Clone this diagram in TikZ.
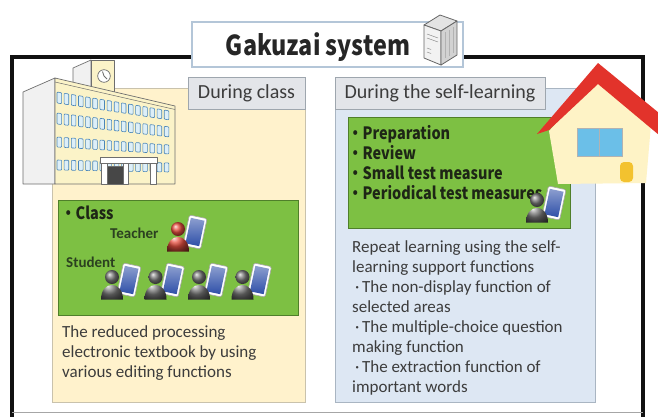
\documentclass[tikz,border=0pt]{standalone}
\usepackage{fontspec}
\setmainfont{Carlito}
\newfontfamily\gothic{Noto Sans CJK JP}[FakeStretch=0.85]

\definecolor{frameblack}{HTML}{111111}
\definecolor{titleedge}{HTML}{B4C6D8}
\definecolor{beige}{HTML}{FFF2CC}
\definecolor{beigeedge}{HTML}{C9C2AC}
\definecolor{skyfill}{HTML}{DDE7F3}
\definecolor{skyedge}{HTML}{A9B5C2}
\definecolor{tabfill}{HTML}{E3E5E9}
\definecolor{tabedge}{HTML}{9EA6AE}
\definecolor{leaf}{HTML}{7DC043}
\definecolor{leafedge}{HTML}{4F7F2A}
\definecolor{ink}{HTML}{3C3C3C}
\definecolor{darkink}{HTML}{1E2616}
\definecolor{labelgreen}{HTML}{2B4020}
\definecolor{roofred}{HTML}{E2332B}
\definecolor{wallcream}{HTML}{FEF3C6}
\definecolor{glass}{HTML}{6BBFE8}
\definecolor{doorgold}{HTML}{F3C22F}
\definecolor{facade}{HTML}{FBF3C8}
\definecolor{sideface}{HTML}{F1F1F1}
\definecolor{outline}{HTML}{6E6E6E}
\definecolor{winfill}{HTML}{DDEFF8}
\definecolor{winedge}{HTML}{4A86B8}
\definecolor{screenblue}{HTML}{2E4FA8}
\definecolor{personred}{HTML}{E85040}
\definecolor{persongray}{HTML}{7A7A7A}

\tikzset{
  panel/.style={draw, line width=0.8pt, inner sep=0pt, rectangle},
  tabbox/.style={draw=tabedge, fill=tabfill, line width=0.8pt, inner sep=0pt,
    font=\fontsize{20}{22}\selectfont, text=ink},
  greenbox/.style={draw=leafedge, fill=leaf, line width=0.8pt, inner sep=0pt},
  % multi-line nodes: the base anchor sits on the last line
  bodytext/.style={anchor=base west, inner sep=0pt, align=left,
    font=\fontsize{17}{20}\selectfont, text=ink},
  bolditem/.style={anchor=base west, inner sep=0pt, align=left,
    font=\gothic\bfseries\fontsize{17}{20}\selectfont, text=darkink},
  role/.style={anchor=base west, inner sep=0pt,
    font=\bfseries\fontsize{15}{16}\selectfont, text=labelgreen},
  win/.style={fill=winfill, draw=winedge, line width=0.6pt},
  bld/.style={draw=outline, line width=0.7pt, line join=round},
  pics/learner/.style={code={
    \begin{scope}[shift={(17,3)}, rotate=-12]
      \filldraw[fill=white, draw=black!35, rounded corners=1.5pt, line width=0.6pt]
        (-9,-15.5) rectangle (9,15.5);
      \shade[top color=screenblue!55!white, bottom color=screenblue]
        (-7,-13) rectangle (7,13);
    \end{scope}
    \shade[ball color=#1] (-11,22.5) .. controls (-11,3) and (11,3) .. (11,22.5) -- cycle;
    \shade[ball color=#1] (0,0) circle (7);
  }}
}

\begin{document}
\begin{tikzpicture}[x=1pt, y=-1pt]
\useasboundingbox (0,0) rectangle (658,416);
\fill[white] (0,0) rectangle (658,416);

% outer frame
\draw[line width=3.5pt, frameblack] (12,417) -- (12,57) -- (643,57) -- (643,417);
\draw[gray!70, line width=0.6pt] (12,412) -- (643,412);

% title box and server
\node[draw=titleedge, fill=white, line width=1.2pt, minimum width=271pt,
      minimum height=45pt, inner sep=0pt] (titlebox) at (327.5,44.5) {};
\node[anchor=base, inner sep=0pt, font=\gothic\bfseries\fontsize{27.5}{30}\selectfont,
      text=black!85] (title) at (318,55) {Gakuzai system};
\begin{scope}[draw=black!60, line width=0.8pt, line join=round]
  \filldraw[fill=gray!22] (424,25) -- (440,15) -- (457,21) -- (441,31) -- cycle;
  \filldraw[fill=gray!10] (424,25) -- (441,31) -- (441,65) -- (424,58) -- cycle;
  \filldraw[fill=gray!35] (441,31) -- (457,21) -- (457,55) -- (441,65) -- cycle;
  \draw[line width=0.5pt, black!45] (427,34) -- (438,38) (427,38) -- (438,42)
    (427,48) -- (431,49.5) (427,52) -- (431,53.5);
  \draw[line width=0.5pt, black!30] (445,32) -- (445,58) (449,30) -- (449,56)
    (453,27) -- (453,53);
\end{scope}

% panels
\node[panel, draw=beigeedge, fill=beige, minimum width=253pt, minimum height=314pt]
  (classpanel) at (178.5,245) {};
\node[panel, draw=skyedge, fill=skyfill, minimum width=260pt, minimum height=314pt]
  (selfpanel) at (465,245) {};
\node[tabbox, minimum width=117pt, minimum height=32pt] (classtab) at (246.5,93)
  {During class};
\node[tabbox, minimum width=210pt, minimum height=32pt] (selftab) at (440,93)
  {During the self-learning};

% school building
\filldraw[bld, fill=sideface] (73,68) -- (91,60) -- (91,98) -- (73,98) -- cycle;
\filldraw[bld, fill=facade] (91,60) rectangle (114,98);
\filldraw[bld, fill=white] (104,76) circle (6.3);
\draw[outline, line width=0.9pt] (104,76) -- (102.5,71.5) (104,76) -- (107,79);
\filldraw[bld, fill=sideface] (23,92) -- (55,78) -- (55,184) -- (23,184) -- cycle;
\filldraw[bld, fill=facade] (55,78) -- (175,106) -- (175,184) -- (55,184) -- cycle;
\draw[outline, line width=0.5pt] (55,82) -- (175,109.5);
\foreach \lt/\lb/\rt/\rb in {92/103/111/120, 113/124/127/137, 137/147/145/154, 160/170/163/172}{
  \foreach \j in {0,...,15}{
    \pgfmathsetmacro\xa{57+\j*7.15}
    \pgfmathsetmacro\xb{\xa+4.6}
    \pgfmathsetmacro\ta{(\xa-57)/113}
    \pgfmathsetmacro\tb{(\xb-57)/113}
    \draw[win, rounded corners=0.8pt]
      (\xa,{\lt+\ta*(\rt-\lt)}) -- (\xb,{\lt+\tb*(\rt-\lt)})
      -- (\xb,{\lb+\tb*(\rb-\lb)}) -- (\xa,{\lb+\ta*(\rb-\lb)}) -- cycle;
  }
}
\filldraw[bld, fill=white] (100,157) rectangle (157,163);
\filldraw[bld, fill=white] (101,163) rectangle (107,184);
\filldraw[bld, fill=black!72] (107,166) rectangle (123,184);
\filldraw[bld, fill=white] (123,163) rectangle (128,184);
\filldraw[bld, fill=white] (150,163) rectangle (156,184);

% class activity
\node[greenbox, minimum width=240pt, minimum height=115pt] (classgreen) at (178,257.5) {};
\node[bolditem] (classitem) at (61,219) {・Class};
\node[role] (teacherlabel) at (110,238) {Teacher};
\node[role] (studentlabel) at (66,267) {Student};
\pic (teacher) at (178,229) {learner=personred};
\foreach \k/\x in {1/112,2/155.5,3/199,4/242.5}{
  \pic (student\k) at (\x,277) {learner=persongray};
}
\node[bodytext] (classtext) at (62,377)
  {The reduced processing\\electronic textbook by using\\various editing functions};

% self-learning activity
\node[greenbox, minimum width=222pt, minimum height=111pt] (selfgreen) at (459,172.5) {};
\node[bolditem] (selfitems) at (348,199)
  {・Preparation\\・Review\\・Small test measure\\・Periodical test measures};
\pic (selfstudent) at (537,200) {learner=persongray};
\node[bodytext] (selftext) at (352,392)
  {Repeat learning using the self-\\learning support functions\\
   \,·\,The non-display function of\\selected areas\\
   \,·\,The multiple-choice question\\making function\\
   \,·\,The extraction function of\\important words};

% house
\fill[wallcream] (549,131) -- (598,76) -- (651,124) -- (646,183) -- (558,184) -- cycle;
\filldraw[fill=glass, draw=gray!60, line width=0.8pt] (577,128) rectangle (622,156);
\draw[gray!60, line width=1.4pt] (599.5,128) -- (599.5,156);
\fill[doorgold, rounded corners=4pt] (620,182) -- (620,162) -- (633,162) -- (633,182) -- cycle;
\fill[roofred] (537,134) -- (598,63) -- (659,113) -- (659,135) -- (598,84) -- (549,130) -- cycle;
\end{tikzpicture}
\end{document}
